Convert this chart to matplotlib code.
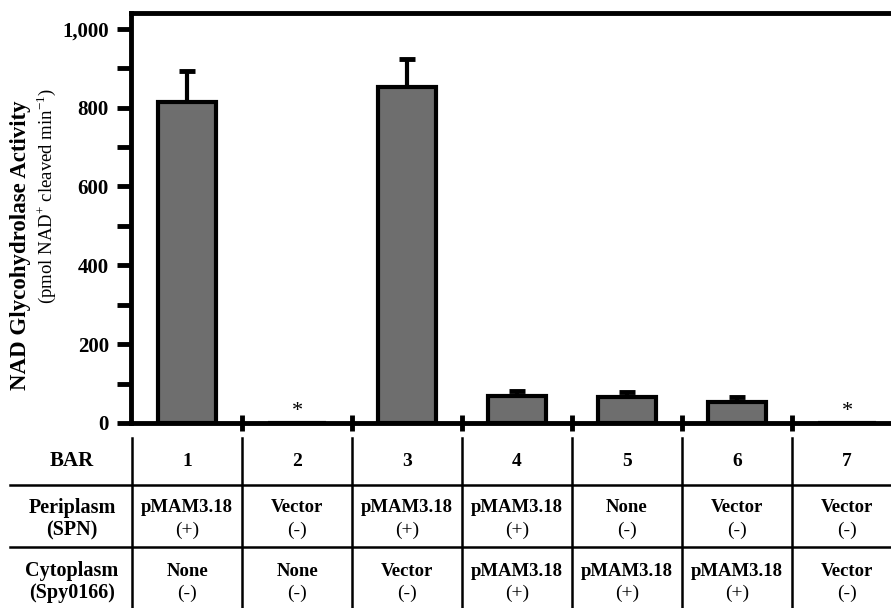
import numpy as np
import matplotlib
matplotlib.use('Agg')
import matplotlib.pyplot as plt
import matplotlib.transforms as mtransforms
from matplotlib.lines import Line2D

plt.rcParams['font.family'] = ['Liberation Serif', 'DejaVu Serif']
plt.rcParams['mathtext.fontset'] = 'custom'
plt.rcParams['mathtext.rm'] = 'Liberation Serif'

# data
bar_ids = ['1', '2', '3', '4', '5', '6', '7']
activity = [815, 0, 853, 68, 66, 53, 0]
errors = [78, 0, 71, 13, 12, 13, 0]
below_detection = [False, True, False, False, False, False, True]
periplasm = ['pMAM3.18', 'Vector', 'pMAM3.18', 'pMAM3.18', 'None', 'Vector', 'Vector']
periplasm_sign = ['(+)', '(-)', '(+)', '(+)', '(-)', '(-)', '(-)']
cytoplasm = ['None', 'None', 'Vector', 'pMAM3.18', 'pMAM3.18', 'pMAM3.18', 'Vector']
cytoplasm_sign = ['(-)', '(-)', '(-)', '(+)', '(+)', '(+)', '(-)']

W, H = 891, 608
fig = plt.figure(figsize=(W / 100, H / 100), dpi=100)
ax = fig.add_axes([131 / W, (H - 423) / H, (W - 131) / W, (423 - 13) / H])

x = np.arange(1, len(activity) + 1)
ax.bar(x, activity, width=0.52, color='#6e6e6e', edgecolor='black', linewidth=3, zorder=3)
ax.errorbar(x, activity, yerr=[np.zeros(len(errors)), errors], fmt='none',
            ecolor='black', elinewidth=3, capsize=6, capthick=3.5, zorder=2)

for xi, flag in zip(x, below_detection):
    if flag:
        ax.text(xi, 4, '*', ha='center', va='bottom', fontsize=16)

ax.set_xlim(0.49, 7.4)
ax.set_ylim(0, 1040)
ax.set_yticks(np.arange(0, 1001, 200))
ax.set_yticklabels(['0', '200', '400', '600', '800', '1,000'], fontweight='bold', fontsize=15)
ax.set_yticks(np.arange(100, 1000, 200), minor=True)
ax.tick_params(axis='y', which='both', direction='out', length=10, width=3.5, pad=6)
ax.set_xticks([])
ax.set_xticks(np.arange(1.5, 7, 1), minor=True)
ax.tick_params(axis='x', which='minor', direction='inout', length=11, width=3.5, labelbottom=False)
ax.spines['right'].set_visible(False)
for s in ['left', 'bottom', 'top']:
    ax.spines[s].set_linewidth(3.5)

fig.text(21 / W, (H - 245) / H, 'NAD Glycohydrolase Activity', rotation=90,
         ha='center', va='center', fontsize=16.5, fontweight='bold')
fig.text(46 / W, (H - 196) / H, r'(pmol NAD$^{+}$ cleaved min$^{-1}$)', rotation=90,
         ha='center', va='center', fontsize=13.5)

# table below the axis
tr = mtransforms.blended_transform_factory(ax.transData, fig.transFigure)
def fy(py):
    return (H - py) / H

for b in np.arange(0.5, 7.5, 1):
    fig.add_artist(Line2D([b, b], [fy(438), fy(610)], transform=tr, color='black', lw=1.8))
for py in [485, 547]:
    fig.add_artist(Line2D([10 / W, 1.0], [fy(py), fy(py)], transform=fig.transFigure,
                          color='black', lw=1.8))

lab_x = 72 / W
fig.text(lab_x, fy(461), 'BAR', ha='center', va='center', fontsize=15, fontweight='bold')
for py, lines in [(519, ['Periplasm', '(SPN)']), (582, ['Cytoplasm', '(Spy0166)'])]:
    fig.text(lab_x, fy(py - 11), lines[0], ha='center', va='center', fontsize=14.5, fontweight='bold')
    fig.text(lab_x, fy(py + 11), lines[1], ha='center', va='center', fontsize=14.5, fontweight='bold')

for xi, bid, p, ps, c, cs in zip(x, bar_ids, periplasm, periplasm_sign, cytoplasm, cytoplasm_sign):
    fig.text(xi, fy(461), bid, transform=tr, ha='center', va='center', fontsize=14, fontweight='bold')
    fig.text(xi, fy(508), p, transform=tr, ha='center', va='center', fontsize=13.5, fontweight='bold')
    fig.text(xi, fy(530), ps, transform=tr, ha='center', va='center', fontsize=14)
    fig.text(xi, fy(571), c, transform=tr, ha='center', va='center', fontsize=13.5, fontweight='bold')
    fig.text(xi, fy(593), cs, transform=tr, ha='center', va='center', fontsize=14)

fig.savefig('out.png', dpi=100)
